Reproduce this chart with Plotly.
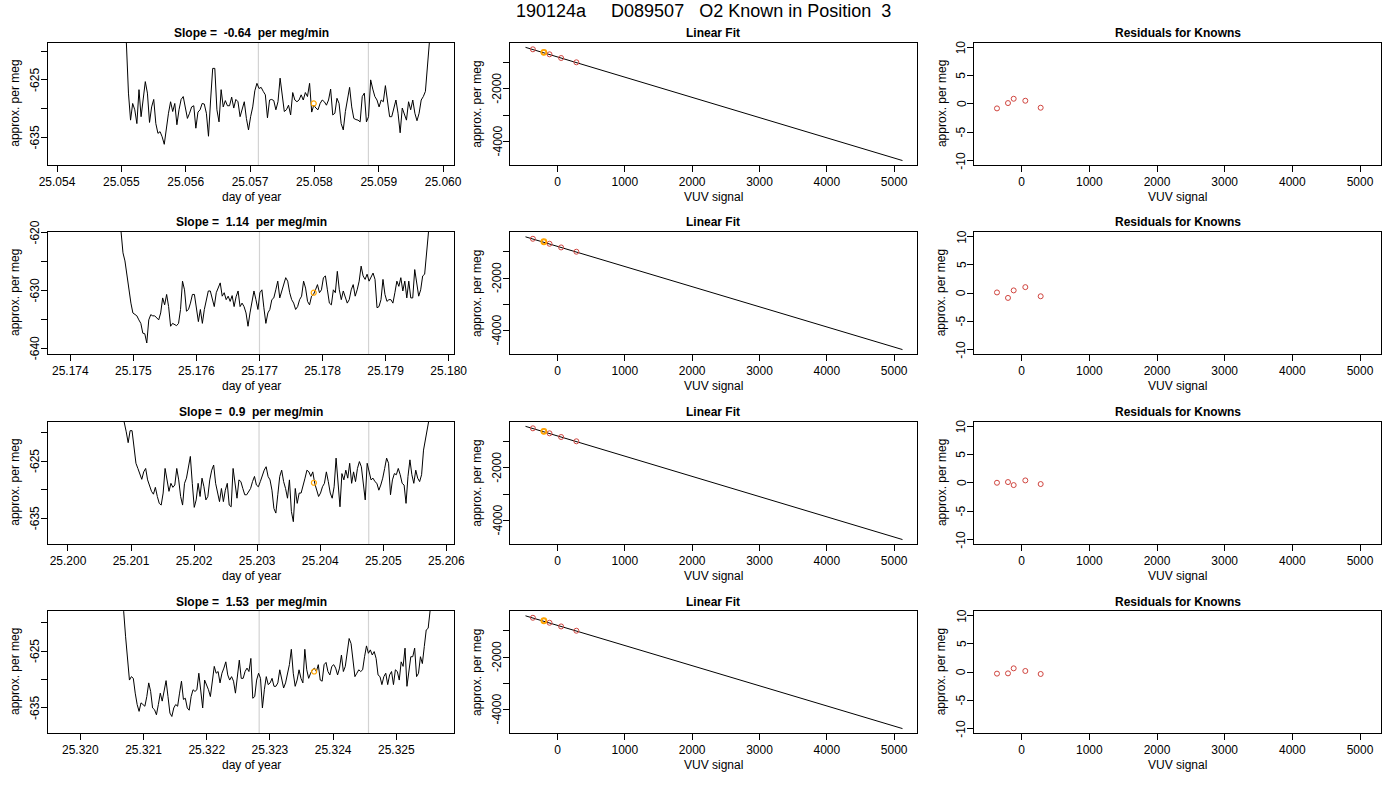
import numpy as np
import plotly.graph_objects as go

FONT = 'Liberation Sans'

main_title = '190124a\u00a0\u00a0\u00a0\u00a0\u00a0D089507\u00a0\u00a0\u00a0O2 Known in Position\u00a0\u00a03'
slopes = ['-0.64', '1.14', '0.9', '1.53']

# start / end time of each trace (day of year), samples evenly spaced
t_start = [25.055045, 25.174772, 25.200862, 25.320655]
t_end = [25.059824, 25.179714, 25.205762, 25.325565]

sig1 = [-614.5, -618.5, -627.3, -632.0, -629.1, -630.2, -632.6, -626.7, -631.4, -627.9,
        -625.3, -627.3, -632.4, -629.7, -628.4, -632.6, -634.3, -634.0, -634.9, -636.2,
        -633.1, -630.8, -628.8, -630.5, -629.1, -632.8, -630.2, -628.4, -627.9, -630.2,
        -631.7, -630.8, -629.7, -629.5, -633.4, -630.6, -630.2, -629.1, -629.2, -630.8,
        -634.8, -628.5, -623.0, -623.0, -630.2, -632.3, -626.7, -629.7, -628.6, -629.5,
        -629.5, -628.0, -629.9, -628.4, -628.8, -631.4, -630.2, -628.8, -631.7, -633.7,
        -631.4, -629.7, -626.9, -625.6, -626.5, -626.3, -627.0, -627.6, -631.6, -628.5,
        -628.4, -628.6, -630.2, -628.8, -624.7, -627.3, -630.5, -630.2, -629.4, -631.1,
        -627.2, -628.5, -628.8, -628.5, -627.6, -628.5, -627.2, -627.9, -625.6, -630.6,
        -629.4, -629.9, -630.2, -629.1, -628.5, -628.8, -629.4, -628.5, -626.6, -631.1,
        -630.8, -628.2, -629.1, -632.6, -633.7, -630.5, -628.2, -626.3, -629.7, -631.7,
        -631.9, -632.0, -632.3, -627.9, -627.3, -632.3, -631.4, -625.0, -626.6, -627.9,
        -628.5, -629.7, -628.5, -628.8, -626.0, -628.5, -631.4, -631.4, -629.7, -628.5,
        -630.8, -634.2, -629.9, -631.1, -632.0, -628.8, -630.2, -628.5, -630.8, -632.1,
        -630.8, -628.5, -627.9, -627.0, -622.7, -618.5, -613.4]

sig2 = [-615.9, -619.9, -623.5, -624.9, -627.5, -630.4, -632.2, -633.9, -634.2, -634.4,
        -635.1, -635.7, -637.4, -637.5, -639.1, -635.1, -634.2, -634.4, -634.4, -634.8,
        -635.1, -633.9, -631.3, -632.5, -630.7, -632.8, -636.2, -635.7, -635.9, -636.1,
        -635.7, -633.3, -628.4, -629.9, -633.6, -633.3, -632.2, -630.7, -630.7, -633.3,
        -635.4, -633.3, -635.7, -633.3, -631.9, -630.1, -630.1, -631.3, -632.8, -630.4,
        -629.6, -628.7, -631.0, -630.4, -631.6, -631.0, -631.9, -630.9, -632.8, -631.1,
        -630.1, -632.8, -632.2, -632.8, -633.9, -636.2, -633.9, -631.6, -630.1, -631.6,
        -633.3, -630.4, -629.9, -633.0, -635.7, -633.9, -633.3, -631.6, -631.3, -629.9,
        -628.4, -631.3, -630.1, -629.3, -627.8, -628.4, -630.4, -631.6, -632.2, -633.3,
        -632.8, -631.6, -631.0, -628.4, -629.6, -631.9, -632.5, -631.0, -630.7, -629.9,
        -629.0, -630.4, -629.9, -627.8, -627.5, -629.9, -632.2, -632.5, -629.9, -630.4,
        -626.7, -629.9, -631.6, -630.1, -631.3, -632.2, -631.6, -629.9, -629.0, -631.0,
        -629.9, -628.4, -625.8, -627.5, -628.1, -627.2, -628.4, -627.8, -627.0, -628.1,
        -633.0, -632.8, -631.6, -628.1, -630.7, -631.9, -631.6, -631.6, -632.2, -630.4,
        -628.4, -629.3, -627.8, -630.1, -628.4, -631.3, -628.4, -631.3, -631.3, -626.4,
        -628.4, -631.0, -629.9, -627.5, -627.2, -624.1, -620.0, -615.9]

sig3 = [-616.7, -618.1, -619.9, -621.8, -619.7, -619.7, -623.1, -625.4, -626.3, -627.2,
        -628.2, -626.9, -626.3, -628.3, -629.2, -630.3, -630.8, -629.6, -631.2, -632.4,
        -632.7, -630.6, -626.3, -628.3, -630.3, -628.9, -629.6, -629.2, -626.3, -628.3,
        -631.2, -632.7, -628.9, -628.0, -626.0, -624.2, -628.9, -633.1, -631.8, -628.9,
        -631.2, -628.0, -629.5, -631.8, -631.2, -628.3, -626.6, -625.7, -628.9, -630.6,
        -632.1, -629.8, -632.1, -630.1, -628.9, -632.7, -633.0, -626.3, -628.9, -631.5,
        -628.3, -628.6, -629.8, -630.9, -630.9, -630.3, -629.8, -628.6, -627.7, -629.2,
        -629.5, -628.6, -627.4, -626.6, -626.0, -627.7, -628.3, -630.1, -633.3, -634.1,
        -630.9, -627.7, -626.6, -628.6, -629.8, -631.5, -628.3, -633.8, -635.6, -629.8,
        -632.4, -630.6, -630.6, -629.5, -628.0, -626.6, -626.9, -627.7, -626.9, -628.9,
        -630.1, -631.2, -630.6, -629.5, -628.9, -626.9, -628.6, -630.6, -631.5, -629.5,
        -624.5, -629.5, -633.0, -627.2, -628.3, -626.6, -628.0, -625.4, -628.9, -626.9,
        -628.6, -626.3, -625.1, -626.0, -629.5, -631.8, -625.4, -627.2, -628.3, -628.0,
        -628.6, -628.9, -630.1, -629.2, -628.0, -626.3, -624.5, -625.4, -630.9, -628.3,
        -627.2, -627.4, -626.3, -627.4, -628.9, -629.2, -632.4, -627.7, -624.8, -627.4,
        -628.9, -626.6, -628.0, -628.6, -627.4, -623.1, -621.3, -619.9, -618.1, -615.5]

sig4 = [-615.5, -618.0, -622.5, -627.2, -630.1, -629.5, -629.8, -632.4, -634.4, -635.6,
        -634.1, -634.4, -634.7, -633.0, -630.6, -632.1, -635.0, -635.3, -636.2, -634.4,
        -632.4, -633.8, -631.8, -630.2, -633.0, -635.9, -636.5, -635.0, -634.4, -634.7,
        -632.4, -630.3, -633.5, -633.3, -635.0, -635.4, -633.0, -631.8, -632.1, -631.8,
        -628.9, -631.8, -635.0, -630.1, -630.9, -631.8, -633.0, -630.6, -627.7, -628.9,
        -628.6, -630.6, -628.9, -628.0, -626.9, -629.2, -630.1, -629.5, -630.3, -632.4,
        -628.9, -626.6, -629.8, -629.8, -628.6, -628.0, -628.6, -626.3, -633.3, -633.0,
        -630.1, -628.9, -629.8, -635.0, -631.8, -629.5, -630.9, -630.6, -629.8, -631.2,
        -631.2, -630.6, -628.3, -630.1, -631.5, -630.6, -628.9, -627.4, -624.7, -628.9,
        -631.2, -630.1, -628.3, -629.8, -630.6, -624.7, -628.3, -629.8, -628.9, -628.3,
        -628.0, -628.6, -627.4, -630.1, -630.3, -627.4, -627.0, -628.6, -629.2, -627.7,
        -627.4, -628.0, -629.2, -628.0, -625.7, -628.6, -627.7, -625.1, -622.8, -623.7,
        -627.2, -629.5, -628.9, -628.3, -628.6, -628.3, -626.0, -624.1, -625.4, -624.8,
        -625.7, -625.1, -626.3, -629.2, -629.5, -630.9, -629.5, -628.9, -630.9, -629.2,
        -628.6, -630.9, -628.3, -628.6, -630.1, -626.9, -627.7, -624.5, -631.2, -628.9,
        -626.0, -626.0, -624.5, -629.5, -628.9, -626.0, -627.2, -624.2, -621.3, -621.0,
        -618.0, -614.9]

signals = [sig1, sig2, sig3, sig4]

# gray marker lines and the highlighted (orange) point on each trace
marks = [[25.05713, 25.05884], [25.17700, 25.17873], [25.20303, 25.20477], [25.32283, 25.32456]]
cur_x = [25.05799, 25.17786, 25.20390, 25.32370]
cur_y = [-629.1, -630.4, -628.8, -628.6]

# knowns: VUV signal vs assigned per meg
known_x = [-365, -202, -118, 54, 281]
known_y = [-508, -621, -697, -837, -1000]
fit_intercept = -797
fit_slope = -0.766
fit_x = [-475, 5124]

resid = [[-0.82, 0.12, 0.88, 0.53, -0.70],
         [0.10, -0.87, 0.46, 1.04, -0.58],
         [0.00, 0.12, -0.41, 0.41, -0.23],
         [-0.29, -0.24, 0.65, 0.18, -0.35]]

###################################################################################################

W, H = 1400, 800
col_px = [(48, 454), (510, 916.7), (974.3, 1381)]
row_px = [(42.5, 165), (232, 354), (421.5, 544), (611, 733)]


def px_x(p):
    return p / W


def px_y(p):
    return 1 - p / H


t_ranges = [[25.05386, 25.06017], [25.173646, 25.180085], [25.199683, 25.206122], [25.319488, 25.325913]]
t_ticks = [[25.054 + i * 0.001 for i in range(7)],
           [25.174 + i * 0.001 for i in range(7)],
           [25.200 + i * 0.001 for i in range(7)],
           [25.320 + i * 0.001 for i in range(6)]]
p_ranges = [[-639.8, -618.5], [-641.0, -619.9], [-639.5, -618.1], [-639.4, -617.97]]
p_ticks = [([-620, -625, -630, -635], ['', '-625', '', '-635']),
           ([-620, -625, -630, -635, -640], ['-620', '', '-630', '', '-640']),
           ([-620, -625, -630, -635], ['', '-625', '', '-635']),
           ([-620, -625, -630, -635], ['', '-625', '', '-635'])]

txt_font = dict(family=FONT, size=12, color='black')


def axis_style(dom, anchor, rng):
    return dict(domain=dom, anchor=anchor, range=rng, showline=True, mirror=True,
                linecolor='black', linewidth=1, ticks='outside', ticklen=6, tickwidth=1,
                tickcolor='black', showgrid=False, zeroline=False, tickfont=txt_font,
                automargin=False)


fig = go.Figure()
layout = {}
annotations = []
shapes = []

for r in range(4):
    y0, y1 = row_px[r]
    ydom = [px_y(y1), px_y(y0)]
    for c in range(3):
        k = r * 3 + c + 1
        xa = 'x' if k == 1 else 'x%d' % k
        ya = 'y' if k == 1 else 'y%d' % k
        xdom = [px_x(col_px[c][0]), px_x(col_px[c][1])]

        if c == 0:
            sig = signals[r]
            t = np.linspace(t_start[r], t_end[r], len(sig))
            fig.add_trace(go.Scatter(x=t, y=sig, mode='lines', xaxis=xa, yaxis=ya,
                                     line=dict(color='black', width=1), showlegend=False))
            fig.add_trace(go.Scatter(x=[cur_x[r]], y=[cur_y[r]], mode='markers', xaxis=xa, yaxis=ya,
                                     marker=dict(symbol='circle-open', size=5, color='orange',
                                                 line=dict(width=1.2)), showlegend=False))
            for m in marks[r]:
                shapes.append(dict(type='line', xref=xa, yref=ya + ' domain', x0=m, x1=m, y0=0, y1=1,
                                   line=dict(color='#d3d3d3', width=1.2), layer='below'))
            xax = axis_style(xdom, ya, t_ranges[r])
            xax.update(tickvals=t_ticks[r], ticktext=['%.3f' % v for v in t_ticks[r]])
            yax = axis_style(ydom, xa, p_ranges[r])
            yvals, ylabs = p_ticks[r]
            title = '<b>Slope =\u00a0\u00a0%s\u00a0\u00a0per meg/min</b>' % slopes[r]
            xtitle = 'day of year'
        elif c == 1:
            fx = np.array(fit_x)
            fig.add_trace(go.Scatter(x=fx, y=fit_intercept + fit_slope * fx, mode='lines',
                                     xaxis=xa, yaxis=ya, line=dict(color='black', width=1),
                                     showlegend=False))
            fig.add_trace(go.Scatter(x=known_x, y=known_y, mode='markers', xaxis=xa, yaxis=ya,
                                     marker=dict(symbol='circle-open', size=5, color='#d0453f',
                                                 line=dict(width=1)), showlegend=False))
            fig.add_trace(go.Scatter(x=[known_x[1]], y=[known_y[1]], mode='markers', xaxis=xa, yaxis=ya,
                                     marker=dict(symbol='circle-open', size=5, color='orange',
                                                 line=dict(width=1.8)), showlegend=False))
            xax = axis_style(xdom, ya, [-705, 5335])
            xax.update(tickvals=[0, 1000, 2000, 3000, 4000, 5000])
            yax = axis_style(ydom, xa, [-4890, -250])
            yvals, ylabs = [-1000, -2000, -3000, -4000], ['', '-2000', '', '-4000']
            title = '<b>Linear Fit</b>'
            xtitle = 'VUV signal'
        else:
            fig.add_trace(go.Scatter(x=known_x, y=resid[r], mode='markers', xaxis=xa, yaxis=ya,
                                     marker=dict(symbol='circle-open', size=5, color='#d0453f',
                                                 line=dict(width=1)), showlegend=False))
            xax = axis_style(xdom, ya, [-700, 5310])
            xax.update(tickvals=[0, 1000, 2000, 3000, 4000, 5000])
            yax = axis_style(ydom, xa, [-10.8, 10.8])
            yvals, ylabs = [-10, -5, 0, 5, 10], ['-10', '-5', '0', '5', '10']
            title = '<b>Residuals for Knowns</b>'
            xtitle = 'VUV signal'

        # y tick labels drawn as rotated text next to the ticks (R style)
        yax.update(tickvals=yvals, showticklabels=False)
        for v, lab in zip(yvals, ylabs):
            if lab:
                annotations.append(dict(text=lab, x=px_x(col_px[c][0] - 13), y=v,
                                        xref='paper', yref=ya, showarrow=False, textangle=-90,
                                        xanchor='center', yanchor='middle', font=txt_font))

        layout['xaxis' if k == 1 else 'xaxis%d' % k] = xax
        layout['yaxis' if k == 1 else 'yaxis%d' % k] = yax

        xc = (xdom[0] + xdom[1]) / 2
        annotations.append(dict(text=title, x=xc, y=px_y(y0 - 9.5), xref='paper', yref='paper',
                                showarrow=False, xanchor='center', yanchor='middle', font=txt_font))
        annotations.append(dict(text=xtitle, x=xc, y=px_y(y1 + 32), xref='paper', yref='paper',
                                showarrow=False, xanchor='center', yanchor='middle', font=txt_font))
        annotations.append(dict(text='approx. per meg', x=px_x(col_px[c][0] - 33),
                                y=(ydom[0] + ydom[1]) / 2, xref='paper', yref='paper',
                                showarrow=False, textangle=-90, xanchor='center', yanchor='middle',
                                font=txt_font))

annotations.append(dict(text=main_title, x=px_x(703), y=px_y(11), xref='paper', yref='paper',
                        showarrow=False, xanchor='center', yanchor='middle',
                        font=dict(family=FONT, size=18, color='black')))

fig.update_layout(
    width=W,
    height=H,
    margin=dict(l=0, r=0, t=0, b=0, autoexpand=False),
    paper_bgcolor='white',
    plot_bgcolor='white',
    annotations=annotations,
    shapes=shapes,
    **layout
)

# drop the page's default body margin so the figure sits at the window's corner
fig.write_html("out.html", config={'displayModeBar': False},
               post_script="document.body.style.margin='0px';")
